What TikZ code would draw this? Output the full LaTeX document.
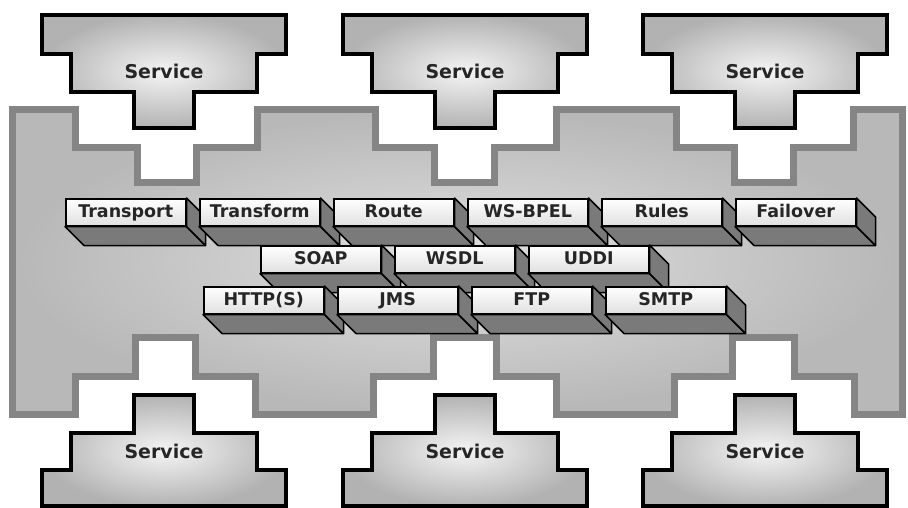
\documentclass[tikz,border=0pt]{standalone}
\usepackage{fontspec}
\setmainfont{DejaVu Sans}
% side faces of a block, hung on the front node
\newcommand{\blockfaces}[1]{%
  \path[blockside] (#1.south west) -- (#1.south east) -- ([shift={(19pt,-19pt)}]#1.south east) -- ([shift={(19pt,-19pt)}]#1.south west) -- cycle;
  \path[blockside] (#1.north east) -- ([shift={(19pt,-19pt)}]#1.north east) -- ([shift={(19pt,-19pt)}]#1.south east) -- (#1.south east) -- cycle;}
\tikzset{
  service/.style={draw=black, line width=4pt, line join=miter, inner color=black!4, outer color=black!30},
  servicetext/.style={font=\fontsize{19}{21}\selectfont\bfseries, text=black!85},
  bus/.style={draw=black!48, line width=7pt, inner color=black!12, outer color=black!28},
  block/.style={draw=black, line width=1.5pt, top color=white, bottom color=black!12, minimum width=120pt, minimum height=27pt, inner sep=0pt, text height=13pt, text depth=3pt, anchor=north west, font=\fontsize{17.5}{19}\selectfont\bfseries, text=black!85},
  blockside/.style={draw=black, line width=1.5pt, fill=black!52, line join=round}
}
\begin{document}
\begin{tikzpicture}[x=1pt, y=-1pt]
  \useasboundingbox (0,0) rectangle (908,508);
  % the bus
  \path[bus] (12,110) -- (75,110) -- (75,148) -- (137,148) -- (137,183) -- (196,183) -- (196,148) -- (257,148) -- (257,110)
    -- (375,110) -- (375,148) -- (434,148) -- (434,183) -- (494,183) -- (494,148) -- (556,148) -- (556,110)
    -- (676,110) -- (676,148) -- (734,148) -- (734,183) -- (793,183) -- (793,148) -- (853,148) -- (853,110)
    -- (902,110) -- (902,414)
    -- (854,414) -- (854,376) -- (794,376) -- (794,337) -- (732,337) -- (732,376) -- (674,376) -- (674,414)
    -- (556,414) -- (556,376) -- (496,376) -- (496,337) -- (433,337) -- (433,376) -- (373,376) -- (373,414)
    -- (255,414) -- (255,376) -- (195,376) -- (195,337) -- (135,337) -- (135,376) -- (75,376) -- (75,414)
    -- (12,414) -- cycle;
  % services above and below
  \foreach \c [count=\i] in {164,465,765} {
    \path[service] (\c-122,15) -- (\c+122,15) -- (\c+122,54) -- (\c+93,54) -- (\c+93,92) -- (\c+30,92) -- (\c+30,128)
      -- (\c-30,128) -- (\c-30,92) -- (\c-93,92) -- (\c-93,54) -- (\c-122,54) -- cycle;
    \node[servicetext] (svcup\i) at (\c,71) {Service};
    \path[service] (\c-30,395) -- (\c+30,395) -- (\c+30,433) -- (\c+93,433) -- (\c+93,470) -- (\c+122,470) -- (\c+122,506)
      -- (\c-122,506) -- (\c-122,470) -- (\c-93,470) -- (\c-93,433) -- (\c-30,433) -- cycle;
    \node[servicetext] (svcdn\i) at (\c,451) {Service};
  }
  % blocks
  \foreach \t [count=\i] in {Transport,Transform,Route,WS-BPEL,Rules,Failover} {
    \node[block] (fn\i) at ({65+134*(\i-1)},198) {\t};
    \blockfaces{fn\i}
  }
  \foreach \t [count=\i] in {SOAP,WSDL,UDDI} {
    \node[block] (ws\i) at ({260+134*(\i-1)},245) {\t};
    \blockfaces{ws\i}
  }
  \foreach \t [count=\i] in {{HTTP(S)},JMS,FTP,SMTP} {
    \node[block] (pr\i) at ({203+134*(\i-1)},286) {\t};
    \blockfaces{pr\i}
  }
\end{tikzpicture}
\end{document}
